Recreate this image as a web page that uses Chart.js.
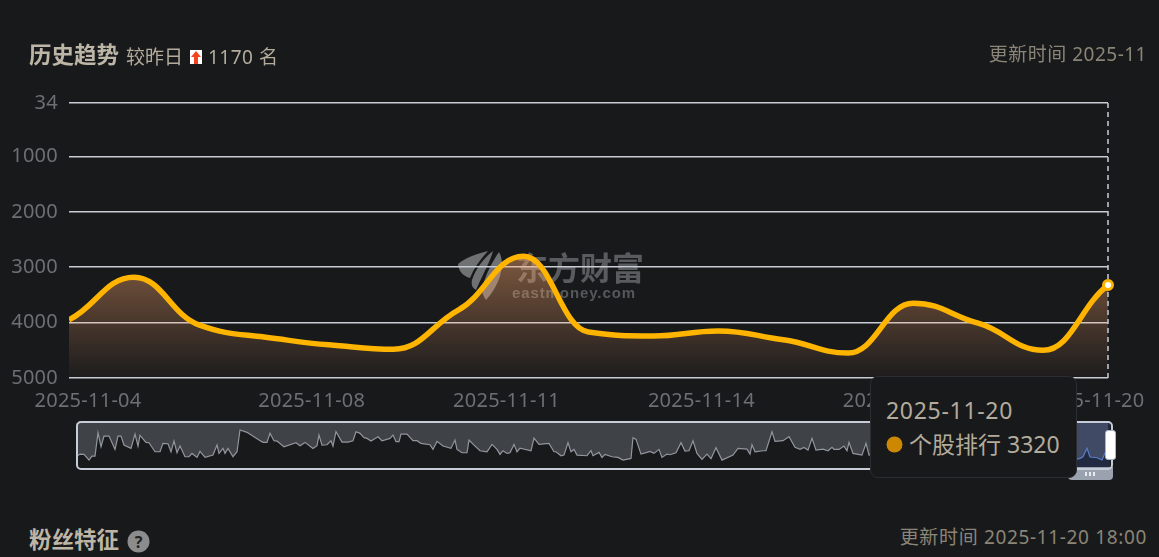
<!DOCTYPE html>
<html>
<head>
<meta charset="utf-8">
<script src="https://cdn.jsdelivr.net/npm/chart.js@4"></script>
<style>
html,body{margin:0;padding:0;background:#18191b;overflow:hidden}
body{width:1159px;height:557px;position:relative;font-family:"Noto Sans","Noto Sans CJK SC",sans-serif;color:#b3ab9c}
.abs{position:absolute;white-space:nowrap}
#mainChart{position:absolute;left:0;top:0;z-index:2}
#mark{z-index:1;left:458px;top:246px;width:190px;height:58px;filter:blur(.5px)}
#brushWrap{position:absolute;left:76px;top:423px;width:1032px;height:44px;z-index:3}
#brushFrame{z-index:4;left:76px;top:421px;width:1033px;height:45px;border:2px solid #c6ccd8;border-radius:5px}
#selected{z-index:4;left:1040px;top:423px;width:70px;height:44px;background:rgba(70,110,220,.2)}
#tab{z-index:3;left:1068px;top:467px;width:45px;height:13px;background:#9aa2b0;border-radius:0 0 4px 4px}
#grip{z-index:4;left:1085px;top:472px;width:10px;height:4px;background:repeating-linear-gradient(90deg,#e8ebf0 0 2px,transparent 2px 4px)}
#handle{z-index:5;left:1105px;top:430px;width:9px;height:28px;background:#fff;border:1px solid #aab4c8;border-radius:3px}
#tip{z-index:6;left:870px;top:376px;width:205px;height:100px;background:#18191b;border:1px solid #2b2d31;border-radius:8px}
</style>
</head>
<body>
<canvas id="mainChart" width="1159" height="557"></canvas>

<div class="abs" style="left:29px;top:39px;font-size:22.5px;font-weight:700;line-height:32px;color:#bdb5a6;z-index:5">历史趋势</div>
<div class="abs" style="left:126px;top:42px;font-size:19px;line-height:30px;z-index:5">较昨日</div>
<svg class="abs" style="left:190px;top:50px;z-index:5" width="12" height="14"><rect width="12" height="14" fill="#fff"/><path d="M6 1L11 7H8V14H4V7H1Z" fill="#f4431f"/></svg>
<div class="abs" id="rankChange" style="left:208px;top:42px;font-size:19px;line-height:30px;letter-spacing:.5px;z-index:5"></div>
<div class="abs" style="right:12px;top:39px;font-size:19px;line-height:30px;letter-spacing:.5px;color:#8b8577;z-index:5">更新时间 2025-11</div>

<div class="abs" id="mark">
  <svg class="abs" style="left:0;top:2px" width="48" height="54"><path d="M0 16C10 8 22 5 30 3C22 12 16 20 12 30C5 28 1 24 0 16Z M14 32C18 20 26 10 35 3C32 14 26 24 18 42C14 40 13 36 14 32Z M24 40C28 26 34 14 41 4C47 14 44 34 28 52C25 48 24 44 24 40Z" fill="#6f7273"/></svg>
  <div class="abs" style="left:58px;top:0;font-size:32px;font-weight:700;line-height:44px;color:#595c5e">东方财富</div>
  <div class="abs" style="left:54px;top:38px;font-size:15px;font-weight:700;line-height:18px;letter-spacing:.9px;color:#55585a;font-family:'Liberation Sans'">eastmoney.com</div>
</div>

<div id="brushWrap"><canvas id="brushChart" width="1032" height="44"></canvas></div>
<div class="abs" id="selected"></div>
<div class="abs" id="brushFrame"></div>
<div class="abs" id="tab"></div>
<div class="abs" id="grip"></div>
<div class="abs" id="handle"></div>

<div class="abs" id="tip">
  <div class="abs" id="tipDate" style="left:15px;top:15px;font-size:23px;line-height:36px;letter-spacing:.7px"></div>
  <svg class="abs" style="left:15px;top:59px" width="17" height="17"><circle cx="8.5" cy="8.5" r="8" fill="#cc8800"/></svg>
  <div class="abs" id="tipValue" style="left:38px;top:49px;font-size:23px;line-height:36px"></div>
</div>

<div class="abs" style="left:29px;top:524px;font-size:22.5px;font-weight:700;line-height:32px;color:#bdb5a6">粉丝特征</div>
<svg class="abs" style="left:127px;top:530px" width="23" height="23"><circle cx="11.5" cy="11.5" r="11" fill="#8c8c8c"/><text x="11.5" y="17.5" text-anchor="middle" font-size="16" font-weight="700" fill="#222">?</text></svg>
<div class="abs" style="right:12px;top:522px;font-size:19px;line-height:30px;letter-spacing:.65px;color:#8b8577">更新时间 2025-11-20 18:00</div>

<script>
var dates = ["2025-11-04","2025-11-05","2025-11-06","2025-11-07","2025-11-08","2025-11-09","2025-11-10","2025-11-11","2025-11-12","2025-11-13","2025-11-14","2025-11-15","2025-11-16","2025-11-17","2025-11-18","2025-11-19","2025-11-20"];
var ranks = [3950,3180,4040,4260,4400,4480,3770,2800,4170,4240,4150,4310,4550,3650,4010,4500,3320];
var shownDates = ["2025-11-04","2025-11-08","2025-11-11","2025-11-14","2025-11-17","2025-11-20"];
var rankTicks = [34,1000,2000,3000,4000,5000];
var rankChange = 1170;
var seriesName = "个股排行";

// overview strip, long history
var brushDays = [0,4,8,13,16,19,22,25,28,33,39,42,45,48,55,59,62,64,70,73,79,84,87,92,95,98,101,104,109,113,116,121,124,129,137,141,143,147,149,152,157,161,164,171,183,187,191,194,198,201,208,220,224,229,237,241,243,246,251,255,257,260,266,272,277,280,284,288,291,295,302,306,314,317,320,323,325,331,337,341,345,354,357,361,367,375,379,381,386,391,393,398,404,411,416,421,424,427,431,434,438,441,444,455,458,463,473,478,480,485,488,492,495,498,501,511,515,517,523,526,529,536,542,547,555,557,560,565,571,574,578,583,586,591,594,600,605,609,613,617,621,626,631,635,640,646,657,662,671,674,676,679,687,690,696,699,707,713,719,724,728,732,736,740,747,752,756,758,763,768,771,773,777,786,790,793,800,830,860,900,950,990,1001,1004,1007,1011,1014,1021,1026,1029,1032];
var brushRanks = [3843,3541,3579,4220,3768,3768,1129,2712,1506,1506,3014,1506,1506,2524,2900,1279,2637,1430,2222,2260,3278,3278,2335,2373,3278,2071,3391,2637,3843,3843,3466,3918,3240,3918,3654,2524,3466,2900,3466,2900,3843,3278,827,1091,1958,2222,2222,1204,2033,2071,2712,2260,2599,2222,2900,2599,1393,2524,2486,2033,2637,1016,2184,2184,2033,1016,1204,1694,1770,2071,1581,2033,1770,1393,2147,2147,1279,1279,2033,2033,2335,2486,3014,2109,2637,2900,1958,3014,3391,3391,1958,2524,3165,3278,2448,3014,3579,3165,3466,3391,2448,3278,2863,3165,1732,2448,2335,3278,3278,3730,3654,2260,3278,3014,3654,3730,3165,3730,3353,3918,3579,3843,3918,4220,4031,1694,1883,3541,3353,3240,3466,3014,3918,3541,3617,3391,2260,3202,3165,2033,3466,4144,3541,4069,2825,4220,3654,2900,2976,3541,2486,3278,3165,3165,1016,2109,2033,1581,2787,3014,2787,3090,1770,3090,2976,3165,2787,3014,3014,2637,3165,2222,3466,3654,2335,3654,3500,3000,3400,3100,3300,3200,4102,4023,3842,2893,3876,3955,4215,3424,3320];
var brushSelectedFrom = 964;

document.getElementById("rankChange").textContent = rankChange + " 名";
document.getElementById("tipDate").textContent = dates[dates.length-1];
document.getElementById("tipValue").textContent = seriesName + " " + ranks[ranks.length-1];

var axisFont = {family:'"Noto Sans","Noto Sans CJK SC",sans-serif', size:20};

// dashed pointer line on the last date + the shifted first label
var pointerLine = {
	id:"pointerLine",
	beforeDatasetsDraw:function(chart){
		var ctx = chart.ctx, area = chart.chartArea;
		var x = chart.scales.x.getPixelForValue(dates.length-1);
		ctx.save();
		ctx.strokeStyle = "#c8ccd4";
		ctx.lineWidth = 1.5;
		ctx.setLineDash([5,4]);
		ctx.beginPath();
		ctx.moveTo(x,area.top);
		ctx.lineTo(x,area.bottom);
		ctx.stroke();
		ctx.restore();
	},
	beforeDraw:function(chart){
		chart.ctx.letterSpacing = "0.25px";
		var items = chart.scales.x.getLabelItems(chart.chartArea);
		if(items[0] && !items[0].shifted){
			items[0].options.translation[0] += 36;
			items[0].shifted = true;
		}
	}
};

// the monotone curve is too pointy at the peaks, pull the control points out a bit
var widerCurve = {
	id:"widerCurve",
	afterDatasetUpdate:function(chart,args){
		var line = chart.getDatasetMeta(args.index).dataset;
		line.updateControlPoints(chart.chartArea,"x");
		line.points.forEach(function(p){
			p.cp1x = p.x-(p.x-p.cp1x)*1.3;
			p.cp2x = p.x+(p.cp2x-p.x)*1.3;
		});
	}
};

var ctx = document.getElementById("mainChart").getContext("2d");
var gradientFill = ctx.createLinearGradient(0,256,0,378);
gradientFill.addColorStop(0,"rgba(255,170,110,0.44)");
gradientFill.addColorStop(1,"rgba(255,170,110,0.02)");

var mainChart = new Chart(ctx,{
	type:"line",
	plugins:[pointerLine,widerCurve],
	data:{
		labels:dates,
		datasets:[{
			label:seriesName,
			data:ranks,
			borderColor:"#ffb400",
			borderWidth:5.5,
			backgroundColor:gradientFill,
			fill:"start",
			cubicInterpolationMode:"monotone",
			clip:{left:0,top:false,right:false,bottom:false},
			pointRadius:function(c){return c.dataIndex===dates.length-1?4.5:0;},
			pointBorderWidth:3,
			pointBorderColor:"#ffb400",
			pointBackgroundColor:"#fff"
		}]
	},
	options:{
		responsive:false,
		animation:false,
		events:[],
		layout:{padding:{left:0,top:103,right:51,bottom:0}},
		plugins:{legend:{display:false},tooltip:{enabled:false}},
		scales:{
			x:{
				offset:false,
				afterFit:function(s){s.height=179;s.paddingLeft=0;s.paddingRight=0;},
				grid:{display:false},
				border:{display:false},
				ticks:{
					autoSkip:false,maxRotation:0,minRotation:0,
					color:"#6d6f74",font:axisFont,padding:3,labelOffset:-17,
					callback:function(v){var d=dates[v];return shownDates.indexOf(d)>=0?d:"";}
				}
			},
			y:{
				reverse:true,min:34,max:5000,
				afterFit:function(s){s.width=69;},
				afterBuildTicks:function(s){s.ticks=rankTicks.map(function(v){return {value:v};});},
				grid:{color:"#c8ccd4",lineWidth:1.5,drawTicks:false},
				border:{display:false},
				ticks:{color:"#6d6f74",font:axisFont,padding:11,callback:function(v){return String(v);}}
			}
		}
	}
});

var brushPoints = brushDays.map(function(d,i){return {x:d,y:brushRanks[i]};});
var brushChart = new Chart(document.getElementById("brushChart"),{
	type:"line",
	data:{datasets:[{
		data:brushPoints,
		borderColor:"#92979f",
		borderWidth:1.2,
		backgroundColor:"#3f4246",
		fill:"end",
		tension:0,
		pointRadius:0,
		segment:{borderColor:function(c){return c.p0.parsed.x>=brushSelectedFrom?"#5f82c4":undefined;}}
	}]},
	options:{
		responsive:false,
		animation:false,
		events:[],
		plugins:{legend:{display:false},tooltip:{enabled:false}},
		scales:{
			x:{type:"linear",min:0,max:1032,display:false},
			y:{reverse:true,min:34,max:5000,display:false}
		}
	}
});
</script>
</body>
</html>
